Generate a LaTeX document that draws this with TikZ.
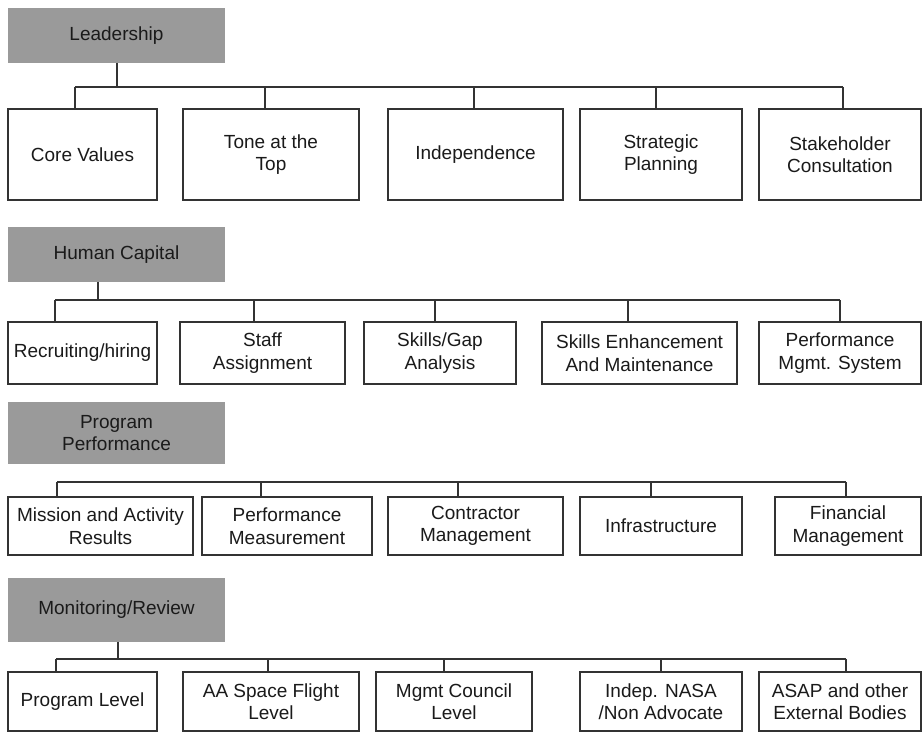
\documentclass[tikz,border=0pt]{standalone}
\usepackage{fontspec}
\setmainfont{Liberation Sans}
\definecolor{hdrgray}{HTML}{9A9A9A}
\definecolor{linegray}{HTML}{333333}
\definecolor{txt}{HTML}{1A1A1A}
\newcommand\mybx[7][boxst]{\node[#1, minimum width={#5-#3}, minimum height={#6-#4}] (#2) at ({(#3+#5)/2},{(#4+#6)/2}) {#7};}
\begin{document}
\begin{tikzpicture}[x=1pt,y=-1pt,
  every node/.style={font=\fontsize{19}{22.5}\selectfont, text=txt, inner sep=0pt, outer sep=0pt, align=center},
  boxst/.style={draw=linegray, line width=1.1pt, fill=white},
  hdrst/.style={fill=hdrgray, draw=none},
  conn/.style={draw=linegray, line width=1.1pt}]
\useasboundingbox (0,0) rectangle (923,733);
\fill[white] (0,0) rectangle (923,733);

% ---------------- Row 1: Leadership
\mybx[hdrst]{h1}{8}{8}{225}{63}{Leadership}
\mybx{b11}{8}{109}{157}{200}{Core Values}
\mybx{b12}{183}{109}{359}{200}{Tone at the\\Top}
\mybx{b13}{388}{109}{563}{200}{Independence}
\mybx{b14}{580}{109}{742}{200}{Strategic\\Planning}
\mybx{b15}{759}{109}{921}{200}{Stakeholder\\Consultation}
\coordinate (j1) at (117,87);
\coordinate (s11) at (75,87);
\coordinate (s12) at (265,87);
\coordinate (s13) at (474,87);
\coordinate (s14) at (656,87);
\coordinate (s15) at (843,87);
\draw[conn] (h1.south -| j1) -- (j1);
\draw[conn] (s11) -- (s15);
\draw[conn] (s11) -- (s11 |- b11.north);
\draw[conn] (s12) -- (s12 |- b12.north);
\draw[conn] (s13) -- (s13 |- b13.north);
\draw[conn] (s14) -- (s14 |- b14.north);
\draw[conn] (s15) -- (s15 |- b15.north);

% ---------------- Row 2: Human Capital
\mybx[hdrst]{h2}{8}{227}{225}{282}{Human Capital}
\mybx{b21}{8}{322}{157}{384}{Recruiting/hiring}
\mybx{b22}{180}{322}{345}{384}{Staff\\Assignment}
\mybx{b23}{364}{322}{516}{384}{Skills/Gap\\Analysis}
\mybx{b24}{542}{322}{737}{384}{Skills Enhancement\\And Maintenance}
\mybx{b25}{759}{322}{921}{384}{Performance\\Mgmt. System}
\coordinate (j2) at (98,300);
\coordinate (s21) at (55,300);
\coordinate (s22) at (254,300);
\coordinate (s23) at (435,300);
\coordinate (s24) at (628,300);
\coordinate (s25) at (840,300);
\draw[conn] (h2.south -| j2) -- (j2);
\draw[conn] (s21) -- (s25);
\draw[conn] (s21) -- (s21 |- b21.north);
\draw[conn] (s22) -- (s22 |- b22.north);
\draw[conn] (s23) -- (s23 |- b23.north);
\draw[conn] (s24) -- (s24 |- b24.north);
\draw[conn] (s25) -- (s25 |- b25.north);

% ---------------- Row 3: Program Performance
\mybx[hdrst]{h3}{8}{402}{225}{464}{Program\\Performance}
\mybx{b31}{8}{497}{193}{555}{Mission and Activity\\Results}
\mybx{b32}{202}{497}{372}{555}{Performance\\Measurement}
\mybx{b33}{388}{497}{563}{555}{Contractor\\Management}
\mybx{b34}{580}{497}{742}{555}{Infrastructure}
\mybx{b35}{775}{497}{921}{555}{Financial\\Management}
\coordinate (s31) at (57,482);
\coordinate (s32) at (261,482);
\coordinate (s33) at (458,482);
\coordinate (s34) at (651,482);
\coordinate (s35) at (846,482);
\draw[conn] (s31) -- (s35);
\draw[conn] (s31) -- (s31 |- b31.north);
\draw[conn] (s32) -- (s32 |- b32.north);
\draw[conn] (s33) -- (s33 |- b33.north);
\draw[conn] (s34) -- (s34 |- b34.north);
\draw[conn] (s35) -- (s35 |- b35.north);

% ---------------- Row 4: Monitoring/Review
\mybx[hdrst]{h4}{8}{578}{225}{642}{Monitoring/Review}
\mybx{b41}{8}{672}{157}{731}{Program Level}
\mybx{b42}{183}{672}{359}{731}{AA Space Flight\\Level}
\mybx{b43}{376}{672}{532}{731}{Mgmt Council\\Level}
\mybx{b44}{580}{672}{742}{731}{Indep. NASA\\/Non Advocate}
\mybx{b45}{759}{672}{921}{731}{ASAP and other\\External Bodies}
\coordinate (j4) at (118,659);
\coordinate (s41) at (56,659);
\coordinate (s42) at (268,659);
\coordinate (s43) at (444,659);
\coordinate (s44) at (661,659);
\coordinate (s45) at (846,659);
\draw[conn] (h4.south -| j4) -- (j4);
\draw[conn] (s41) -- (s45);
\draw[conn] (s41) -- (s41 |- b41.north);
\draw[conn] (s42) -- (s42 |- b42.north);
\draw[conn] (s43) -- (s43 |- b43.north);
\draw[conn] (s44) -- (s44 |- b44.north);
\draw[conn] (s45) -- (s45 |- b45.north);
\end{tikzpicture}
\end{document}
